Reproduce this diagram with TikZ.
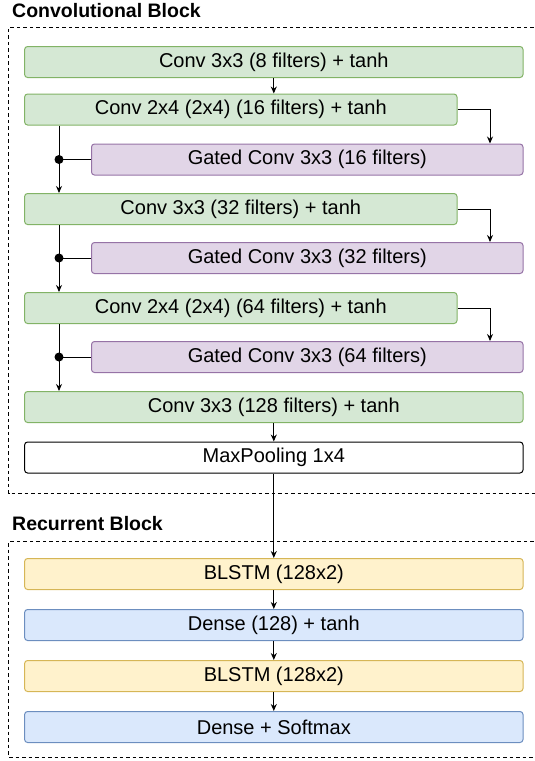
\documentclass[tikz,border=0pt]{standalone}
\usepackage{fontspec}
\setmainfont{Liberation Sans}
\usetikzlibrary{arrows.meta}
\definecolor{gfill}{HTML}{D5E8D4}\definecolor{gdraw}{HTML}{82B366}
\definecolor{pfill}{HTML}{E1D5E7}\definecolor{pdraw}{HTML}{9673A6}
\definecolor{yfill}{HTML}{FFF2CC}\definecolor{ydraw}{HTML}{D6B656}
\definecolor{bfill}{HTML}{DAE8FC}\definecolor{bdraw}{HTML}{6C8EBF}
\begin{document}
\begin{tikzpicture}[x=1pt,y=-1pt,
  box/.style={rounded corners=3pt,line width=1pt,minimum height=31pt,inner sep=0pt,font=\fontsize{20}{24}\selectfont},
  green/.style={box,fill=gfill,draw=gdraw},
  purple/.style={box,fill=pfill,draw=pdraw},
  yellow/.style={box,fill=yfill,draw=ydraw},
  blue/.style={box,fill=bfill,draw=bdraw},
  white/.style={box,fill=white,draw=black},
  wide/.style={minimum width=498.4pt},
  mid/.style={minimum width=432.4pt},
  gate/.style={minimum width=431.5pt},
  arr/.style={-{Stealth[length=7pt,width=6pt]},line width=1pt},
  ln/.style={line width=1pt},
  frame/.style={dashed,dash pattern=on 3.5pt off 3pt,line width=0.9pt},
  title/.style={font=\fontsize{19.5}{23}\selectfont\bfseries,anchor=west,inner sep=0pt}]
\useasboundingbox (0,0) rectangle (535,761);
\draw[frame] (540,27.3) -- (8.5,27.3) -- (8.5,493.6) -- (540,493.6);
\draw[frame] (540,541.6) -- (8.5,541.6) -- (8.5,757) -- (540,757);
\node[title] (t1) at (12,11) {Convolutional Block};
\node[title] (t2) at (12,524) {Recurrent Block};
\node[green,wide] (c1) at (273.8,62) {Conv 3x3 (8 filters) + tanh};
\node[green,mid] (c2) at (240.8,109.5) {Conv 2x4 (2x4) (16 filters) + tanh};
\node[purple,gate] (g1) at (307.25,159.5) {Gated Conv 3x3 (16 filters)};
\node[green,mid] (c3) at (240.8,209) {Conv 3x3 (32 filters) + tanh};
\node[purple,gate] (g2) at (307.25,258) {Gated Conv 3x3 (32 filters)};
\node[green,mid] (c4) at (240.8,308) {Conv 2x4 (2x4) (64 filters) + tanh};
\node[purple,gate] (g3) at (307.25,357) {Gated Conv 3x3 (64 filters)};
\node[green,wide] (c5) at (273.8,407) {Conv 3x3 (128 filters) + tanh};
\node[white,wide] (mp) at (273.8,457.5) {MaxPooling 1x4};
\node[yellow,wide] (r1) at (273.8,574) {BLSTM (128x2)};
\node[blue,wide] (r2) at (273.8,625) {Dense (128) + tanh};
\node[yellow,wide] (r3) at (273.8,676) {BLSTM (128x2)};
\node[blue,wide] (r4) at (273.8,727) {Dense + Softmax};
\draw[arr] (c1.south) -- (c1.south |- c2.north);
\foreach \a/\g/\b in {c2/g1/c3,c3/g2/c4,c4/g3/c5}{
  \draw[arr] (\a.east) -| (490,0 |- \g.north);
  \coordinate (d\g) at (59,0 |- \g.west);
  \draw[arr] (59,0 |- \a.south) -- (59,0 |- \b.north);
  \draw[ln] (\g.west) -- (d\g);
  \fill (d\g) circle (4.5pt);
}
\draw[arr] (c5.south) -- (mp.north);
\draw[arr] (mp.south) -- (r1.north);
\draw[arr] (r1.south) -- (r2.north);
\draw[arr] (r2.south) -- (r3.north);
\draw[arr] (r3.south) -- (r4.north);
\end{tikzpicture}
\end{document}
